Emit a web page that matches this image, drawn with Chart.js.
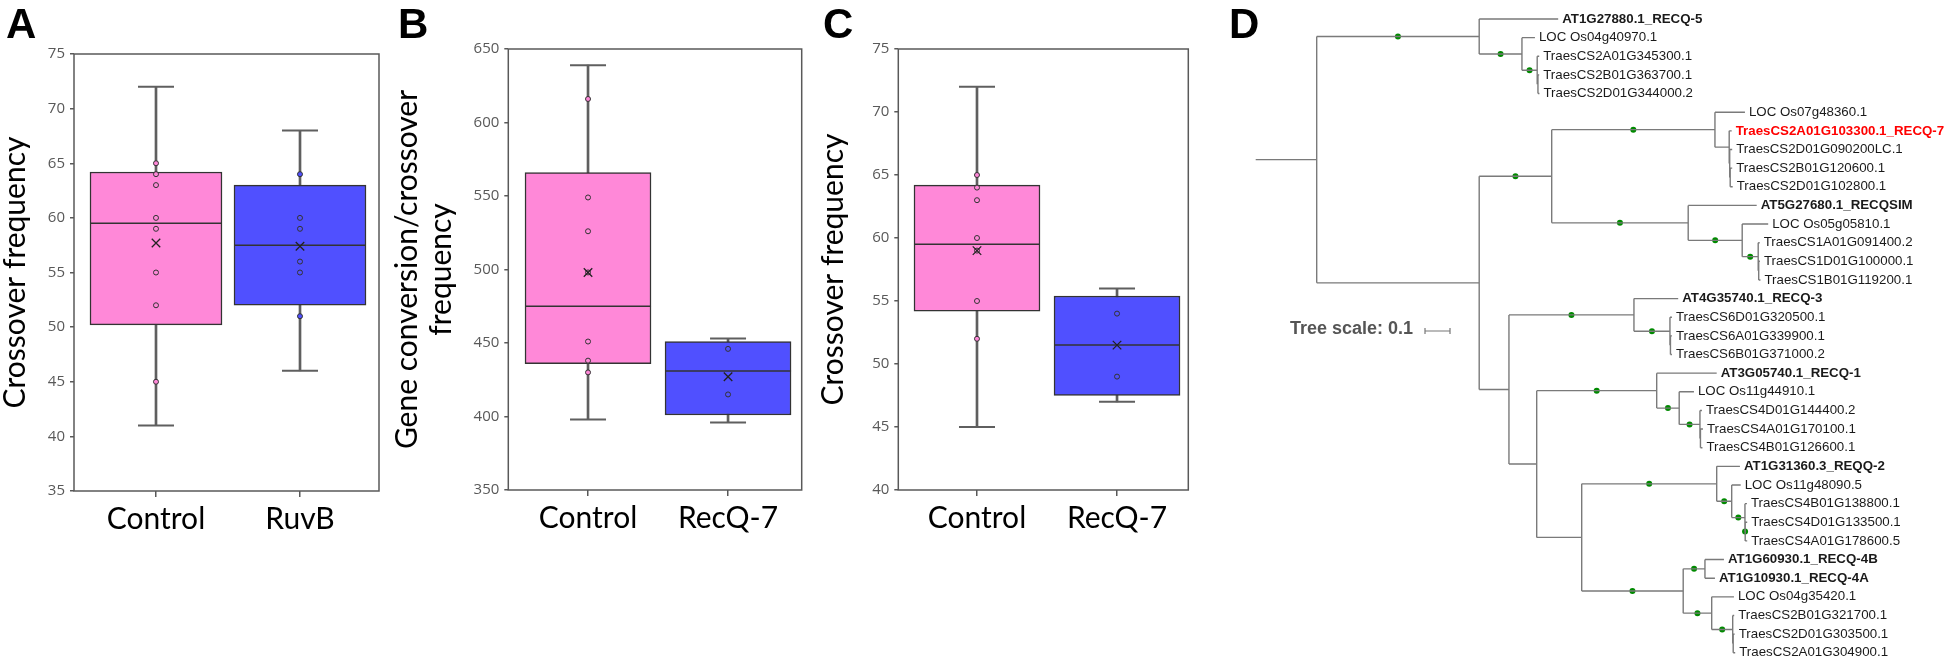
<!DOCTYPE html>
<html>
<head>
<meta charset="utf-8">
<title>Crossover frequency and RecQ tree</title>
<script src="https://cdn.jsdelivr.net/npm/chart.js@4.4.0/dist/chart.umd.min.js"></script>
<style>
    html, body { margin: 0; padding: 0; background: #fff; }
    #fig { position: relative; width: 1946px; height: 660px; overflow: hidden; background: #fff; }
    #fig canvas { position: absolute; top: 0; }
    .panel-letter { position: absolute; top: 3px; font: bold 42px "Liberation Sans", Arial, sans-serif; line-height: 42px; color: #000; }
</style>
</head>
<body>
<div id="fig">
    <canvas id="chartA" width="384" height="660" style="left:0px"></canvas>
    <canvas id="chartB" width="424" height="660" style="left:384px"></canvas>
    <canvas id="chartC" width="385" height="660" style="left:808px"></canvas>
    <canvas id="chartD" width="753" height="660" style="left:1193px"></canvas>
    <div class="panel-letter" style="left:6px">A</div>
    <div class="panel-letter" style="left:398px">B</div>
    <div class="panel-letter" style="left:823px">C</div>
    <div class="panel-letter" style="left:1229px">D</div>
</div>
<script>
/* A - crossover frequency, Control vs RuvB */
var groupsA = ['Control', 'RuvB'];
var minA = [41, 46];
var q1A = [50.2, 52];
var medianA = [59.5, 57.5];
var q3A = [64.2, 63];
var maxA = [72, 68];
var meanA = [57.7, 57.4];
var pointsControlA = [65, 64, 63, 60, 59, 55, 52, 45];
var pointsTreatA = [64, 60, 59, 56, 55, 51];
var yRangeA = [35, 75];
var yStepA = 5;

/* B - gene conversion/crossover frequency, Control vs RecQ-7 */
var groupsB = ['Control', 'RecQ-7'];
var minB = [398, 396];
var q1B = [436, 401];
var medianB = [475, 431];
var q3B = [566, 451];
var maxB = [639, 453];
var meanB = [498, 427];
var pointsControlB = [616, 549, 526, 498, 451, 438, 430];
var pointsTreatB = [446, 415];
var yRangeB = [350, 650];
var yStepB = 50;

/* C - crossover frequency, Control vs RecQ-7 */
var groupsC = ['Control', 'RecQ-7'];
var minC = [45, 47];
var q1C = [54.2, 47.5];
var medianC = [59.5, 51.5];
var q3C = [64.2, 55.4];
var maxC = [72, 56];
var meanC = [59, 51.5];
var pointsControlC = [65, 64, 63, 60, 59, 55, 52];
var pointsTreatC = [54, 49];
var yRangeC = [40, 75];
var yStepC = 5;

/* D - RecQ tree, branch lengths read against the 0.1 scale bar, '*' = supported node (green dot) */
var treeNewick = [
    '((AT1G27880.1_RECQ-5:0.316,(LOC Os04g40970.1:0.052,(TraesCS2A01G345300.1:0.008,(TraesCS2B01G363700.1:0.005,TraesCS2D01G344000.2:0.006):0.003)*:0.061)*:0.171)*:0.650,',
    '(((LOC Os07g48360.1:0.120,(TraesCS2A01G103300.1_RECQ-7:0.010,(TraesCS2D01G090200LC.1:0.010,(TraesCS2B01G120600.1:0.008,TraesCS2D01G102800.1:0.010):0.002):0.002):0.057)*:0.653,',
    '(AT5G27680.1_RECQSIM:0.274,(LOC Os05g05810.1:0.104,(TraesCS1A01G091400.2:0.006,(TraesCS1D01G100000.1:0.005,TraesCS1B01G119200.1:0.007):0.002)*:0.064)*:0.216)*:0.546)*:0.290,',
    '((AT4G35740.1_RECQ-3:0.177,(TraesCS6D01G320500.1:0.008,(TraesCS6A01G339900.1:0.006,TraesCS6B01G371000.2:0.006):0.002)*:0.144)*:0.500,',
    '((AT3G05740.1_RECQ-1:0.240,(LOC Os11g44910.1:0.059,(TraesCS4D01G144400.2:0.008,(TraesCS4A01G170100.1:0.010,TraesCS4B01G126600.1:0.008):0.002)*:0.083)*:0.090)*:0.480,',
    '((AT1G31360.3_REQQ-2:0.093,(LOC Os11g48090.5:0.036,(TraesCS4B01G138800.1:0.008,(TraesCS4D01G133500.1:0.008,TraesCS4A01G178600.5:0.008)*:0.001)*:0.053)*:0.060)*:0.540,',
    '((AT1G60930.1_RECQ-4B:0.076,AT1G10930.1_RECQ-4A:0.040)*:0.087,(LOC Os04g35420.1:0.089,(TraesCS2B01G321700.1:0.006,(TraesCS2D01G303500.1:0.006,TraesCS2A01G304900.1:0.008):0.002)*:0.084)*:0.114)*:0.406):0.180):0.111):0.119):0.650):0.244;'
].join('');
var boldLeaves = ['AT1G27880.1_RECQ-5', 'AT5G27680.1_RECQSIM', 'AT4G35740.1_RECQ-3', 'AT3G05740.1_RECQ-1',
    'AT1G31360.3_REQQ-2', 'AT1G60930.1_RECQ-4B', 'AT1G10930.1_RECQ-4A'];
var redLeaves = ['TraesCS2A01G103300.1_RECQ-7'];
var treeScaleValue = 0.1;

var boxColors = ['#ff88d8', '#5050ff'];

/*Frame round the plot area*/
var framePlugin = {
    id: 'frame',
    afterDraw: function (chart) {
        var a = chart.chartArea, ctx = chart.ctx;
        ctx.save();
        ctx.strokeStyle = '#595959';
        ctx.lineWidth = 1.5;
        ctx.strokeRect(a.left, a.top, a.right - a.left, a.bottom - a.top);
        ctx.restore();
    }
};

/*Box plot built from bars + scatter points*/
function BoxChart(id, o) {
    var xs = [1, 2];
    var caps = [];
    xs.forEach(function (x, i) {
        caps.push({ x: x, y: o.min[i] });
        caps.push({ x: x, y: o.max[i] });
    });
    var datasets = [
        {
            type: 'bar', label: 'whisker',
            data: xs.map(function (x, i) { return { x: x, y: [o.min[i], o.max[i]] }; }),
            backgroundColor: '#5f5f5f', borderWidth: 0, barThickness: 2, grouped: false, order: 6
        },
        {
            type: 'scatter', label: 'cap', data: caps,
            pointStyle: 'line', pointRadius: 18, pointBorderColor: '#5f5f5f', pointBorderWidth: 2, order: 5
        },
        {
            type: 'bar', label: 'box',
            data: xs.map(function (x, i) { return { x: x, y: [o.q1[i], o.q3[i]] }; }),
            backgroundColor: boxColors, borderColor: '#333333', borderWidth: 1.5, borderSkipped: false,
            barThickness: o.boxWidth, grouped: false, order: 4
        },
        {
            type: 'scatter', label: 'median',
            data: xs.map(function (x, i) { return { x: x, y: o.median[i] }; }),
            pointStyle: 'line', pointRadius: o.boxWidth / 2, pointBorderColor: '#333333', pointBorderWidth: 1.5, order: 3
        },
        {
            type: 'scatter', label: o.groups[0],
            data: o.pointsControl.map(function (v) { return { x: 1, y: v }; }),
            pointRadius: 2.5, pointBackgroundColor: boxColors[0], pointBorderColor: '#333333', pointBorderWidth: 1, order: 2
        },
        {
            type: 'scatter', label: o.groups[1],
            data: o.pointsTreat.map(function (v) { return { x: 2, y: v }; }),
            pointRadius: 2.5, pointBackgroundColor: boxColors[1], pointBorderColor: '#333333', pointBorderWidth: 1, order: 2
        },
        {
            type: 'scatter', label: 'mean',
            data: xs.map(function (x, i) { return { x: x, y: o.mean[i] }; }),
            pointStyle: 'crossRot', pointRadius: 6, pointBorderColor: '#222222', pointBorderWidth: 1.3, order: 1
        }
    ];
    return new Chart(document.getElementById(id), {
        type: 'bar',
        data: { datasets: datasets },
        options: {
            responsive: false,
            animation: false,
            events: [],
            layout: { autoPadding: false, padding: { top: o.padTop, right: o.padRight, bottom: 0, left: 0 } },
            plugins: { legend: { display: false }, tooltip: { enabled: false } },
            scales: {
                x: {
                    type: 'linear', min: o.xRange[0], max: o.xRange[1], offset: false,
                    afterBuildTicks: function (s) { s.ticks = [{ value: 1 }, { value: 2 }]; },
                    afterFit: function (s) { s.height = o.xAxisHeight; s.paddingLeft = 0; s.paddingRight = 0; },
                    ticks: {
                        callback: function (v) { return o.groups[v - 1]; },
                        color: '#000', font: { family: 'Lato, sans-serif', size: 30 },
                        padding: 4, maxRotation: 0, autoSkip: false
                    },
                    grid: { display: true, offset: false, drawOnChartArea: false, tickLength: 6, color: '#595959', lineWidth: 1.5 },
                    border: { display: false }
                },
                y: {
                    type: 'linear', min: o.yRange[0], max: o.yRange[1],
                    afterFit: function (s) { s.width = o.yAxisWidth; s.paddingTop = 0; s.paddingBottom = 0; },
                    ticks: { stepSize: o.yStep, color: '#595959', font: { family: "'Open Sans', sans-serif", size: 15 }, padding: 5 },
                    grid: { display: true, drawOnChartArea: false, tickLength: 4, color: '#595959', lineWidth: 1.5 },
                    border: { display: false },
                    title: {
                        display: true, text: o.title, color: '#000',
                        font: { family: 'Lato, sans-serif', size: 30, lineHeight: o.titleLineHeight },
                        padding: { top: o.titlePad, bottom: 0 }
                    }
                }
            }
        },
        plugins: [framePlugin]
    });
}

BoxChart('chartA', {
    groups: groupsA, min: minA, q1: q1A, median: medianA, q3: q3A, max: maxA, mean: meanA,
    pointsControl: pointsControlA, pointsTreat: pointsTreatA, yRange: yRangeA, yStep: yStepA,
    title: 'Crossover frequency', titleLineHeight: 1, titlePad: 0,
    xRange: [0.4306, 2.5486], boxWidth: 132, padTop: 54, padRight: 5, yAxisWidth: 74, xAxisHeight: 169
});
BoxChart('chartB', {
    groups: groupsB, min: minB, q1: q1B, median: medianB, q3: q3B, max: maxB, mean: meanB,
    pointsControl: pointsControlB, pointsTreat: pointsTreatB, yRange: yRangeB, yStep: yStepB,
    title: ['Gene conversion/crossover', 'frequency'], titleLineHeight: 1.133, titlePad: 6.5,
    xRange: [0.4307, 2.526], boxWidth: 126, padTop: 49, padRight: 6.3, yAxisWidth: 124.3, xAxisHeight: 170
});
BoxChart('chartC', {
    groups: groupsC, min: minC, q1: q1C, median: medianC, q3: q3C, max: maxC, mean: meanC,
    pointsControl: pointsControlC, pointsTreat: pointsTreatC, yRange: yRangeC, yStep: yStepC,
    title: 'Crossover frequency', titleLineHeight: 1, titlePad: 10,
    xRange: [0.438, 2.509], boxWidth: 126, padTop: 49, padRight: 4.7, yAxisWidth: 90.3, xAxisHeight: 170
});

/*Parse the newick string*/
function parseNewick(s) {
    var pos = 0;
    function readNode() {
        var n = { kids: [], name: '', len: 0, dot: false };
        if (s[pos] === '(') {
            pos++;
            n.kids.push(readNode());
            while (s[pos] === ',') { pos++; n.kids.push(readNode()); }
            pos++; // ')'
        }
        var start = pos;
        while (pos < s.length && ':,();'.indexOf(s[pos]) < 0) pos++;
        var label = s.slice(start, pos).trim();
        if (n.kids.length) n.dot = label === '*'; else n.name = label;
        if (s[pos] === ':') {
            pos++;
            start = pos;
            while (pos < s.length && ',();'.indexOf(s[pos]) < 0) pos++;
            n.len = parseFloat(s.slice(start, pos));
        }
        return n;
    }
    return readNode();
}

/*Rectangular layout: x = distance from root, y = leaf order*/
var treeRoot = parseNewick(treeNewick);
var leaves = [];
function layoutTree(n, x0) {
    n.x0 = x0;
    n.x = x0 + n.len;
    if (!n.kids.length) {
        n.y = leaves.length;
        leaves.push(n);
        return;
    }
    n.kids.forEach(function (k) { layoutTree(k, n.x); });
    n.y = (n.kids[0].y + n.kids[n.kids.length - 1].y) / 2;
}
layoutTree(treeRoot, 0);

var branchPoints = [];
var dotPoints = [];
function collect(n) {
    branchPoints.push({ x: n.x0, y: n.y }, { x: n.x, y: n.y }, { x: n.x, y: null });
    if (n.dot) dotPoints.push({ x: (n.x0 + n.x) / 2, y: n.y });
    if (n.kids.length) {
        branchPoints.push({ x: n.x, y: n.kids[0].y }, { x: n.x, y: n.kids[n.kids.length - 1].y }, { x: n.x, y: null });
        n.kids.forEach(collect);
    }
}
collect(treeRoot);

var leafLabelPlugin = {
    id: 'leafLabels',
    afterDatasetsDraw: function (chart) {
        var ctx = chart.ctx, xs = chart.scales.x, ys = chart.scales.y;
        ctx.save();
        ctx.textBaseline = 'middle';
        ctx.textAlign = 'left';
        leaves.forEach(function (lf) {
            var bold = boldLeaves.indexOf(lf.name) >= 0 || redLeaves.indexOf(lf.name) >= 0;
            ctx.font = (bold ? 'bold ' : '') + '13.3px "Liberation Sans", Arial, sans-serif';
            ctx.fillStyle = redLeaves.indexOf(lf.name) >= 0 ? '#ff0000' : '#1a1a1a';
            ctx.fillText(lf.name, xs.getPixelForValue(lf.x) + 4, ys.getPixelForValue(lf.y));
        });
        // tree scale legend
        var barLeft = 232, barY = 331;
        var barLen = xs.getPixelForValue(treeScaleValue) - xs.getPixelForValue(0);
        ctx.font = 'bold 18px "Liberation Sans", Arial, sans-serif';
        ctx.fillStyle = '#555555';
        ctx.textAlign = 'right';
        ctx.textBaseline = 'alphabetic';
        ctx.fillText('Tree scale: ' + treeScaleValue, barLeft - 12, 334);
        ctx.strokeStyle = '#777777';
        ctx.lineWidth = 1.2;
        ctx.beginPath();
        ctx.moveTo(barLeft, barY); ctx.lineTo(barLeft + barLen, barY);
        ctx.moveTo(barLeft, barY - 3); ctx.lineTo(barLeft, barY + 3);
        ctx.moveTo(barLeft + barLen, barY - 3); ctx.lineTo(barLeft + barLen, barY + 3);
        ctx.stroke();
        ctx.restore();
    }
};

var treeChart = new Chart(document.getElementById('chartD'), {
    type: 'line',
    data: {
        datasets: [
            { label: 'branches', data: branchPoints, borderColor: '#7a7a7a', borderWidth: 1.4, pointRadius: 0, spanGaps: false, tension: 0, fill: false },
            { label: 'support', data: dotPoints, showLine: false, pointRadius: 3, pointBackgroundColor: '#008a00', pointBorderWidth: 0 }
        ]
    },
    options: {
        responsive: false,
        animation: false,
        events: [],
        layout: { autoPadding: false, padding: 0 },
        plugins: { legend: { display: false }, tooltip: { enabled: false } },
        scales: {
            x: { type: 'linear', display: false, min: -0.2508, max: 2.7612 },
            y: { type: 'linear', display: false, reverse: true, min: -1.0193, max: 34.389 }
        }
    },
    plugins: [leafLabelPlugin]
});
</script>
</body>
</html>
